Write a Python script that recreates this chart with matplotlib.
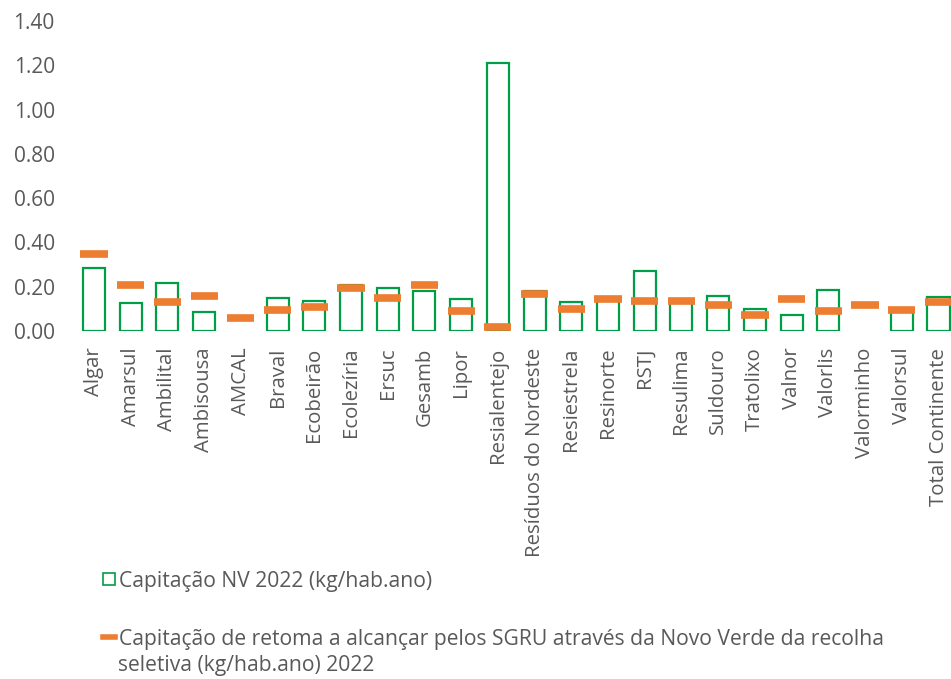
import numpy as np
import matplotlib.pyplot as plt
from matplotlib.patches import Patch
from matplotlib.lines import Line2D

plt.rcParams['font.family'] = ['Open Sans', 'DejaVu Sans']

sgru = ['Algar', 'Amarsul', 'Ambilital', 'Ambisousa', 'AMCAL', 'Braval', 'Ecobeirão',
        'Ecolezíria', 'Ersuc', 'Gesamb', 'Lipor', 'Resialentejo', 'Resíduos do Nordeste',
        'Resiestrela', 'Resinorte', 'RSTJ', 'Resulima', 'Suldouro', 'Tratolixo', 'Valnor',
        'Valorlis', 'Valorminho', 'Valorsul', 'Total Continente']

# AMCAL e Valorminho sem barra visível no original
capitacao_nv = [0.286, 0.125, 0.218, 0.084, np.nan, 0.150, 0.137, 0.209, 0.194, 0.179,
                0.143, 1.21, 0.182, 0.131, 0.143, 0.270, 0.137, 0.160, 0.101, 0.071,
                0.185, np.nan, 0.090, 0.152]

meta_retoma = [0.346, 0.208, 0.132, 0.158, 0.060, 0.096, 0.110, 0.194, 0.148, 0.208,
               0.092, 0.017, 0.167, 0.098, 0.143, 0.134, 0.137, 0.117, 0.071, 0.143,
               0.090, 0.117, 0.093, 0.131]

verde = '#009E47'
laranja = '#ED7D31'
cinza = '#595959'

fig = plt.figure(figsize=(9.51, 6.79), dpi=100)
ax = fig.add_axes([75.6 / 951, 1 - 331 / 679, (951 - 75.6) / 951, 310 / 679])

x = np.arange(len(sgru))
ax.bar(x, capitacao_nv, width=0.6, facecolor='white', edgecolor=verde, linewidth=1.6)
ax.hlines(meta_retoma, x - 0.37, x + 0.37, colors=laranja, linewidth=5.5)

ax.set_xlim(-0.5, 23.34)
ax.set_ylim(0, 1.4)
ax.set_yticks(np.arange(0, 1.41, 0.2))
ax.set_yticklabels([f'{v:.2f}' for v in np.arange(0, 1.41, 0.2)])
ax.set_xticks(x)
ax.set_xticklabels(sgru, rotation=90)
ax.tick_params(length=0, colors=cinza)
ax.tick_params(axis='y', labelsize=15, pad=15)
ax.tick_params(axis='x', labelsize=14.7, pad=12)
for s in ax.spines.values():
    s.set_visible(False)

# legenda: duas entradas em posições separadas, como no original
fig.legend([Patch(facecolor='white', edgecolor=verde, linewidth=1.2)],
           ['Capitação NV 2022 (kg/hab.ano)'],
           loc='center left', bbox_to_anchor=(103 / 951, 1 - 581 / 679),
           frameon=False, fontsize=15.2, labelcolor=cinza, handlelength=0.55,
           handleheight=0.55, handletextpad=0.2, borderaxespad=0, borderpad=0)
fig.legend([Line2D([0], [0], color=laranja, linewidth=4)],
           ['Capitação de retoma a alcançar pelos SGRU através da Novo Verde da recolha'],
           loc='center left', bbox_to_anchor=(103 / 951, 1 - 639 / 679),
           frameon=False, fontsize=15.2, labelcolor=cinza, handlelength=0.55,
           handletextpad=0.2, borderaxespad=0, borderpad=0)
fig.text(118 / 951, 1 - 665 / 679, 'seletiva (kg/hab.ano) 2022', fontsize=15.2,
         color=cinza, va='center', ha='left')

plt.savefig('out.png', dpi=100)
